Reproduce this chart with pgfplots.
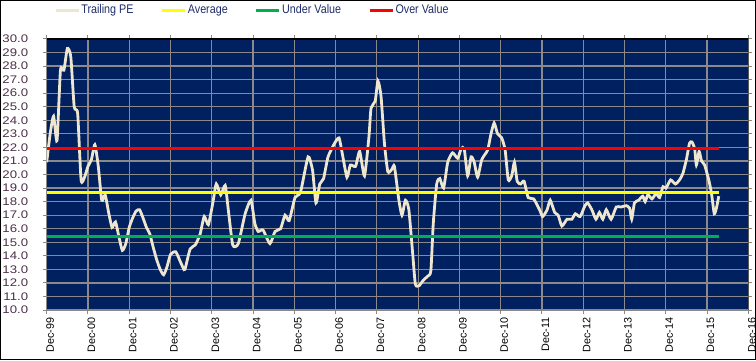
\documentclass[border=0pt]{standalone}
\usepackage{pgfplots}
\pgfplotsset{compat=1.18}
\usepackage{fontspec}
\setmainfont{Liberation Sans}
\newfontfamily\yfont[FakeStretch=1.2]{Liberation Sans}
\newfontfamily\legfont[FakeStretch=0.86]{Liberation Sans}
\definecolor{navybg}{HTML}{002060}
\definecolor{gridgray}{HTML}{8A8A8A}
\definecolor{pecol}{HTML}{EEE6CF}
\definecolor{avgcol}{HTML}{FFFF00}
\definecolor{undercol}{HTML}{00B050}
\definecolor{overcol}{HTML}{FF0000}
\definecolor{legtext}{HTML}{1F2D6A}
\definecolor{ylab}{HTML}{4A2F48}
\begin{document}
\begin{tikzpicture}[x=1bp,y=1bp]
\useasboundingbox (0,0) rectangle (756,360);
\begin{axis}[
  at={(46.7bp,50bp)}, anchor=south west, scale only axis,
  width=701.6bp, height=271bp,
  xmin=0, xmax=204, ymin=10, ymax=30,
  xtick={0,12,...,204},
  xticklabels={Dec-99,Dec-00,Dec-01,Dec-02,Dec-03,Dec-04,Dec-05,Dec-06,Dec-07,Dec-08,Dec-09,Dec-10,Dec-11,Dec-12,Dec-13,Dec-14,Dec-15,Dec-16},
  ytick={10,11,...,30},
  grid=major, grid style={color=gridgray, line width=1.2bp},
  axis background/.style={fill=navybg},
  axis line style={gridgray, line width=1bp},
  tick align=outside, major tick length=4bp,
  tick style={gridgray, line width=1bp},
  xticklabel style={rotate=90, anchor=east, yshift=-3.5bp, font=\fontsize{10.8bp}{12bp}\selectfont, text=black},
  yticklabel style={xshift=-11bp, font=\yfont\fontsize{11bp}{13bp}\selectfont, text=ylab},
  /pgf/number format/assume math mode=true,
  yticklabel={\pgfmathprintnumber[fixed,fixed zerofill,precision=1]{\tick}},
  legend style={at={(0.2925,1.107)}, anchor=center, draw=none, fill=none,
    font=\legfont\fontsize{12.5bp}{14bp}\selectfont, text=legtext,
    nodes={inner xsep=1.2bp},
    /tikz/every even column/.append style={column sep=26bp}},
  legend columns=4, legend cell align=left,
  legend image code/.code={\draw[#1, line width=3bp] (0bp,0bp) -- (23bp,0bp);},
]
\addplot[pecol, line width=2.8bp, smooth, tension=0.35] coordinates {
(0,20.9) (1,23.0) (2,24.3) (3,22.5) (4,27.7) (5,27.7) (6,29.3) (7,28.7) (8,25.0) (9,24.5)
(10,19.6) (11,19.8) (12,20.6) (13,21.1) (14,22.2) (15,20.6) (16,18.1) (17,18.5) (18,17.2) (19,16.1)
(20,16.5) (21,15.4) (22,14.4) (23,14.9) (24,16.1) (25,16.8) (26,17.3) (27,17.4) (28,16.8) (29,16.1)
(30,15.6) (31,14.6) (32,13.7) (33,13.0) (34,12.6) (35,13.2) (36,14.1) (37.5,14.3) (38.8,13.6) (39.7,13.1)
(40.2,13.0) (41.7,14.5) (43.2,14.8) (44.6,15.6) (45.8,16.9) (47,16.3) (48.3,17.9) (49.3,19.3) (50.6,18.5) (51.9,19.2)
(52.8,17.4) (54.1,14.8) (55.7,14.9) (57.7,17.1) (59.4,18.1) (60.5,16.4) (61.5,15.8) (62.9,15.9) (64.9,14.9) (66.4,15.8)
(68.0,16.0) (69.3,17.0) (70.5,16.6) (72.2,18.3) (73.8,18.7) (76,21.3) (77.3,20.3) (78.3,17.9) (79.4,19.3) (80.5,19.7)
(81.8,21.3) (83.7,22.3) (85,22.7) (85.9,21.6) (87.3,19.8) (88.3,20.7) (89.8,20.6) (91,21.7) (92.4,19.9) (93.7,22.8)
(94.3,24.9) (95.5,25.4) (96.3,26.9) (97.2,25.8) (98.2,22.3) (99.2,20.2) (100.4,20.4) (101.1,20.6) (102.4,18.1) (103.3,17.0)
(104.3,18.1) (105.3,17.4) (106.4,14.2) (107.2,11.9) (108.3,11.8) (109.5,12.2) (110.8,12.5) (111.7,12.9) (112.4,16.4) (113.4,19.3)
(114.3,19.7) (115.4,19.0) (116.6,20.9) (118,21.6) (119.5,21.2) (120.5,21.9) (121.4,21.9) (122.4,19.9) (123.4,21.3) (124.3,20.9)
(125.3,19.8) (126.5,21.1) (128.2,21.8) (129.1,22.9) (130.1,23.8) (131.1,23.0) (132.3,22.7) (133.3,21.8) (134.2,19.6) (135.2,19.9)
(136,20.9) (136.8,19.5) (137.8,19.3) (138.8,19.5) (140,18.3) (141.6,18.2) (143.3,17.4) (144.2,16.9) (145.5,17.4) (146.4,18.1)
(147.7,17.2) (148.7,17.0) (149.8,16.2) (151.3,16.7) (152.7,16.7) (153.7,17.1) (155.1,16.9) (156.5,17.7) (157.3,17.9) (158.5,17.4)
(159.7,16.7) (160.7,17.2) (161.7,16.7) (162.7,17.4) (164.1,16.7) (165.6,17.6) (167,17.6) (168.5,17.7) (169.5,17.5) (170.1,16.7)
(170.9,17.9) (172.1,18.1) (173.3,18.4) (174,18.0) (174.8,18.5) (176,18.2) (177.2,18.6) (178.2,18.3) (179.2,19.1) (180.1,19.0)
(181.4,19.6) (182.8,19.3) (184,19.6) (185,20.1) (186,21.1) (186.9,22.3) (187.6,22.4) (188.4,21.9) (188.9,20.7) (189.7,21.7)
(190.4,21.0) (191.3,20.7) (192.5,19.6) (193.3,18.6) (194.1,17.1) (194.8,17.6) (195.4,18.4)
};
\addlegendentry{Trailing PE}
\addplot[avgcol, line width=3bp] coordinates {(0,18.65) (195.5,18.65)};
\addlegendentry{Average}
\addplot[undercol, line width=3bp] coordinates {(0,15.4) (195.5,15.4)};
\addlegendentry{Under Value}
\addplot[overcol, line width=3bp] coordinates {(0,21.9) (195.5,21.9)};
\addlegendentry{Over Value}
\draw[black, line width=1.6bp] (rel axis cs:0,1) -- (rel axis cs:1,1) -- (rel axis cs:1,0);
\end{axis}
\draw[black, line width=1.4bp] (0.7,0.7) rectangle (755.3,359.3);
\end{tikzpicture}
\end{document}
